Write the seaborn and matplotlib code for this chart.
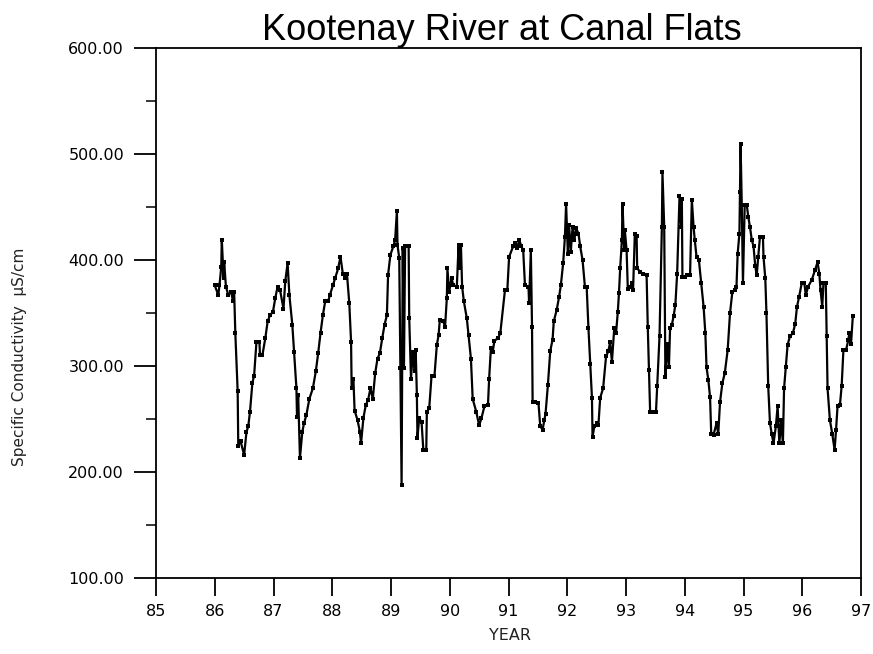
import matplotlib
matplotlib.use('Agg')
import matplotlib.pyplot as plt
import seaborn as sns
import pandas as pd
from matplotlib.ticker import MultipleLocator, FormatStrFormatter

# Sample dates (decimal year, 19xx) and specific conductivity (uS/cm)
year = [
    86.00, 86.06, 86.08, 86.11, 86.12, 86.15, 86.16, 86.19, 86.23, 86.28,
    86.31, 86.33, 86.35, 86.39, 86.40, 86.44, 86.50, 86.54, 86.57, 86.60,
    86.64, 86.67, 86.71, 86.76, 86.77, 86.81, 86.86, 86.90, 86.94, 86.99,
    87.03, 87.07, 87.11, 87.17, 87.20, 87.24, 87.27, 87.32, 87.35, 87.39,
    87.40, 87.42, 87.45, 87.49, 87.52, 87.56, 87.61, 87.67, 87.72, 87.76,
    87.80, 87.84, 87.88, 87.93, 87.96, 88.01, 88.05, 88.10, 88.14, 88.18,
    88.22, 88.25, 88.29, 88.32, 88.33, 88.36, 88.38, 88.43, 88.47, 88.49,
    88.53, 88.57, 88.61, 88.65, 88.69, 88.73, 88.77, 88.81, 88.85, 88.89,
    88.93, 88.95, 88.99, 89.04, 89.07, 89.10, 89.11, 89.14, 89.16, 89.18,
    89.20, 89.22, 89.24, 89.30, 89.31, 89.34, 89.37, 89.40, 89.42, 89.44,
    89.45, 89.48, 89.52, 89.55, 89.60, 89.61, 89.65, 89.69, 89.74, 89.78,
    89.81, 89.83, 89.89, 89.92, 89.95, 89.96, 89.99, 90.03, 90.06, 90.12,
    90.15, 90.16, 90.19, 90.21, 90.24, 90.29, 90.32, 90.36, 90.39, 90.45,
    90.50, 90.54, 90.59, 90.65, 90.67, 90.70, 90.73, 90.76, 90.82, 90.86,
    90.94, 90.98, 91.01, 91.08, 91.11, 91.15, 91.18, 91.22, 91.25, 91.28,
    91.34, 91.35, 91.38, 91.40, 91.41, 91.45, 91.51, 91.54, 91.58, 91.61,
    91.63, 91.67, 91.71, 91.75, 91.77, 91.82, 91.86, 91.89, 91.93, 91.96,
    91.98, 92.01, 92.03, 92.06, 92.09, 92.12, 92.15, 92.19, 92.22, 92.26,
    92.30, 92.33, 92.36, 92.39, 92.42, 92.43, 92.46, 92.50, 92.53, 92.56,
    92.61, 92.66, 92.70, 92.73, 92.76, 92.80, 92.83, 92.86, 92.88, 92.90,
    92.93, 92.94, 92.97, 92.98, 93.01, 93.03, 93.07, 93.10, 93.12, 93.15,
    93.18, 93.19, 93.24, 93.29, 93.35, 93.37, 93.39, 93.41, 93.465, 93.51,
    93.53, 93.57, 93.61, 93.62, 93.65, 93.67, 93.70, 93.73, 93.75, 93.78,
    93.81, 93.84, 93.87, 93.91, 93.94, 93.95, 93.96, 94.00, 94.04, 94.09,
    94.12, 94.15, 94.17, 94.20, 94.24, 94.28, 94.32, 94.35, 94.37, 94.40,
    94.43, 94.45, 94.49, 94.54, 94.57, 94.60, 94.64, 94.68, 94.73, 94.77,
    94.81, 94.855, 94.88, 94.90, 94.93, 94.94, 94.95, 94.97, 94.99, 95.02,
    95.055, 95.08, 95.11, 95.14, 95.17, 95.20, 95.225, 95.25, 95.28, 95.33,
    95.34, 95.37, 95.39, 95.42, 95.45, 95.48, 95.51, 95.55, 95.58, 95.61,
    95.64, 95.67, 95.69, 95.72, 95.75, 95.79, 95.84, 95.88, 95.91, 95.945,
    95.99, 96.035, 96.06, 96.10, 96.16, 96.22, 96.26, 96.29, 96.31, 96.34,
    96.36, 96.40, 96.415, 96.43, 96.47, 96.51, 96.55, 96.575, 96.60, 96.64,
    96.67, 96.70, 96.745, 96.785, 96.80, 96.83, 96.86,
]
conductivity = [
    376, 367, 376, 393, 419, 383, 398, 375, 367, 370,
    361, 370, 331, 276, 225, 229, 216, 238, 243, 257,
    284, 291, 323, 323, 310, 310, 326, 342, 348, 351,
    364, 375, 372, 354, 380, 397, 367, 339, 313, 279,
    252, 273, 213, 238, 246, 254, 269, 279, 295, 312,
    331, 348, 361, 361, 367, 376, 383, 392, 403, 387,
    383, 387, 359, 323, 279, 288, 258, 249, 238, 227,
    251, 263, 268, 279, 269, 293, 307, 312, 326, 339,
    348, 386, 405, 413, 419, 446, 414, 402, 298, 188,
    411, 298, 413, 413, 345, 288, 313, 295, 315, 273,
    232, 251, 247, 221, 221, 257, 260, 291, 291, 320,
    329, 343, 342, 337, 364, 392, 370, 383, 376, 375,
    414, 392, 414, 375, 361, 345, 329, 307, 269, 257,
    244, 251, 262, 263, 288, 317, 313, 324, 326, 331,
    372, 372, 403, 413, 416, 411, 419, 413, 409, 376,
    375, 359, 409, 337, 266, 266, 265, 243, 240, 249,
    255, 282, 314, 325, 342, 353, 365, 376, 397, 422,
    453, 406, 433, 408, 431, 419, 430, 425, 413, 400,
    375, 375, 336, 302, 270, 233, 243, 246, 244, 270,
    279, 309, 314, 323, 304, 336, 331, 351, 369, 392,
    419, 453, 409, 428, 409, 373, 375, 378, 372, 425,
    423, 392, 389, 387, 386, 337, 296, 257, 257, 257,
    281, 328, 431, 483, 431, 290, 321, 299, 336, 339,
    347, 358, 387, 460, 431, 458, 384, 384, 386, 386,
    457, 431, 419, 403, 400, 378, 356, 331, 299, 287,
    271, 236, 235, 246, 236, 266, 284, 293, 315, 350,
    370, 372, 375, 406, 425, 464, 509, 452, 378, 452,
    452, 441, 431, 419, 413, 394, 386, 403, 422, 422,
    403, 383, 350, 281, 246, 236, 227, 243, 262, 227,
    249, 227, 279, 299, 320, 328, 331, 340, 356, 365,
    378, 378, 367, 375, 381, 391, 398, 387, 372, 356,
    378, 378, 328, 279, 249, 236, 221, 240, 262, 263,
    281, 315, 315, 325, 331, 321, 347,
]

x_ticks = list(range(85, 98))
title = 'Kootenay River at Canal Flats'
y_label = 'Specific Conductivity  µS/cm'
x_label = 'YEAR'

sns.set_style('ticks')
plt.rcParams['font.family'] = ['DejaVu Sans']
plt.rcParams['text.color'] = 'black'

df = pd.DataFrame({'YEAR': year, 'cond': conductivity})

fig = plt.figure(figsize=(8.73, 6.54), dpi=100)
ax = fig.add_axes([0.1787, 0.1162, 0.8076, 0.8104])

sns.lineplot(data=df, x='YEAR', y='cond', ax=ax, sort=False, estimator=None,
             color='black', linewidth=1.6, marker='s', markersize=3.5,
             markeredgewidth=0)

ax.set_xlim(85, 97)
ax.set_ylim(100, 600)
ax.set_xticks(x_ticks)
ax.yaxis.set_major_locator(MultipleLocator(100))
ax.yaxis.set_minor_locator(MultipleLocator(50))
ax.yaxis.set_major_formatter(FormatStrFormatter('%.2f'))

for side in ['top', 'right', 'bottom', 'left']:
    ax.spines[side].set_visible(True)
    ax.spines[side].set_linewidth(1.3)
    ax.spines[side].set_color('black')

ax.tick_params(axis='y', which='major', length=16, width=1.3, pad=7,
               labelsize=11.5, colors='black')
ax.tick_params(axis='y', which='minor', length=7, width=1.3)
ax.tick_params(axis='x', which='major', length=13, width=1.3, pad=6,
               labelsize=11.5, colors='black')

ax.set_xlabel('')
ax.set_ylabel('')

fig.text(0.5745, 1 - 30 / 654, title, ha='center', va='center',
         fontsize=26, family='Liberation Sans', color='black')
fig.text(20 / 873, 1 - 357 / 654, y_label, ha='center', va='center',
         rotation=90, fontsize=11, color='#222222')
fig.text(510 / 873, 1 - 636 / 654, x_label, ha='center', va='center',
         fontsize=11.5, color='#222222')

fig.savefig('out.png', dpi=100)
